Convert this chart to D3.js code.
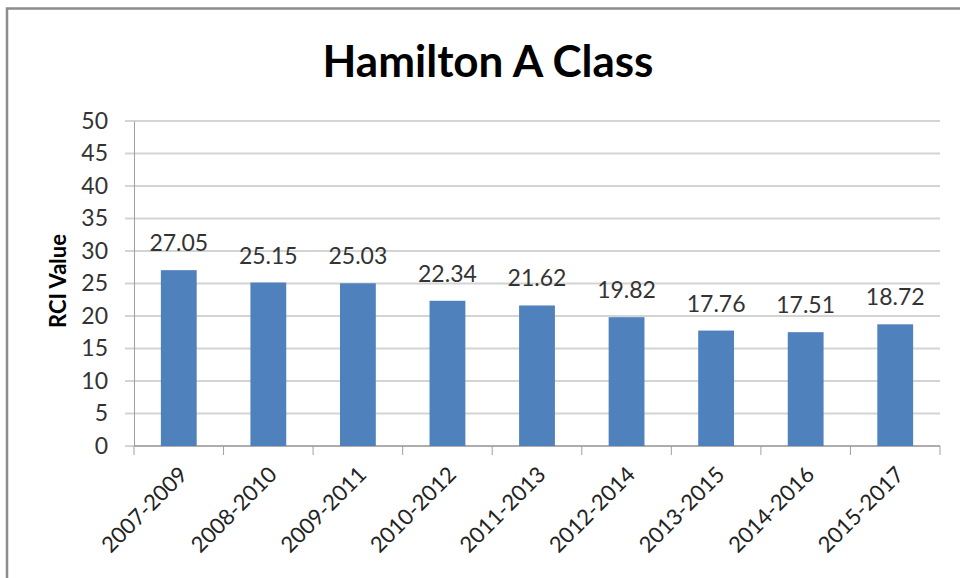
<!DOCTYPE html>
<html><head><meta charset="utf-8">
<script src="https://cdn.jsdelivr.net/npm/d3@7"></script>
<style>body{margin:0;background:#fff}svg{display:block}</style>
</head><body>
<svg id="c" width="960" height="578"></svg>
<script>
const categories = ["2007-2009","2008-2010","2009-2011","2010-2012","2011-2013","2012-2014","2013-2015","2014-2016","2015-2017"];
const values = [27.05,25.15,25.03,22.34,21.62,19.82,17.76,17.51,18.72];
const yTicks = [0,5,10,15,20,25,30,35,40,45,50];
const title = "Hamilton A Class";
const yTitle = "RCI Value";

const svg = d3.select("#c");
const font = "Lato, 'Open Sans', sans-serif";
svg.append("rect").attr("x",7).attr("y",8.5).attr("width",1000).attr("height",1000)
  .attr("fill","none").attr("stroke","#8c8c8c").attr("stroke-width",2.5);

const L=134, R=940, T=121, B=446;
const x = d3.scaleBand().domain(categories).range([L,R]).paddingInner(0.6).paddingOuter(0.3);
const y = d3.scaleLinear().domain([0,50]).range([B,T]);

// gridlines
svg.append("g").selectAll("line").data(yTicks).join("line")
  .attr("x1",L-9).attr("x2",R).attr("y1",d=>y(d)).attr("y2",d=>y(d))
  .attr("stroke","#d4d4d4").attr("stroke-width",2);

// y axis
const ya = svg.append("g").attr("transform",`translate(${L},0)`)
  .call(d3.axisLeft(y).tickValues(yTicks).tickSize(0).tickPadding(26));
ya.select(".domain").attr("stroke","#a0a0a0");
ya.selectAll("text").attr("font-family",font).attr("font-size",23).attr("fill","#333");

// x axis
const xa = svg.append("g").attr("transform",`translate(0,${B})`);
xa.append("line").attr("x1",L).attr("x2",R).attr("stroke","#a0a0a0").attr("stroke-width",1.5);
const step = x.step();
const tickPos = d3.range(categories.length+1).map(i=>L+i*step);
xa.selectAll("line.t").data(tickPos).join("line").attr("class","t")
  .attr("x1",d=>d).attr("x2",d=>d).attr("y1",0).attr("y2",9).attr("stroke","#a0a0a0");
xa.selectAll("text").data(categories).join("text")
  .attr("transform",d=>`translate(${x(d)+x.bandwidth()/2+10},${30}) rotate(-45)`)
  .attr("text-anchor","end").attr("font-family",font).attr("font-size",22).attr("fill","#222")
  .text(d=>d);

// bars
const data = categories.map((c,i)=>({c, v:values[i]}));
svg.append("g").selectAll("rect").data(data).join("rect")
  .attr("x",d=>x(d.c)).attr("width",x.bandwidth())
  .attr("y",d=>y(d.v)).attr("height",d=>B-y(d.v)).attr("fill","#4f81bd");

// labels
svg.append("g").selectAll("text").data(data).join("text")
  .attr("x",d=>x(d.c)+x.bandwidth()/2).attr("y",d=>y(d.v)-19)
  .attr("text-anchor","middle").attr("font-family",font).attr("font-size",23).attr("fill","#333")
  .text(d=>d.v.toFixed(2));

// title
svg.append("text").attr("x",488).attr("y",77).attr("text-anchor","middle")
  .attr("font-family",font).attr("font-weight","bold").attr("font-size",44).attr("fill","#000").text(title);

svg.append("text").attr("transform","translate(66,281) rotate(-90)").attr("text-anchor","middle")
  .attr("font-family",font).attr("font-weight","bold").attr("font-size",22).attr("fill","#000").text(yTitle);
</script>
</body></html>
